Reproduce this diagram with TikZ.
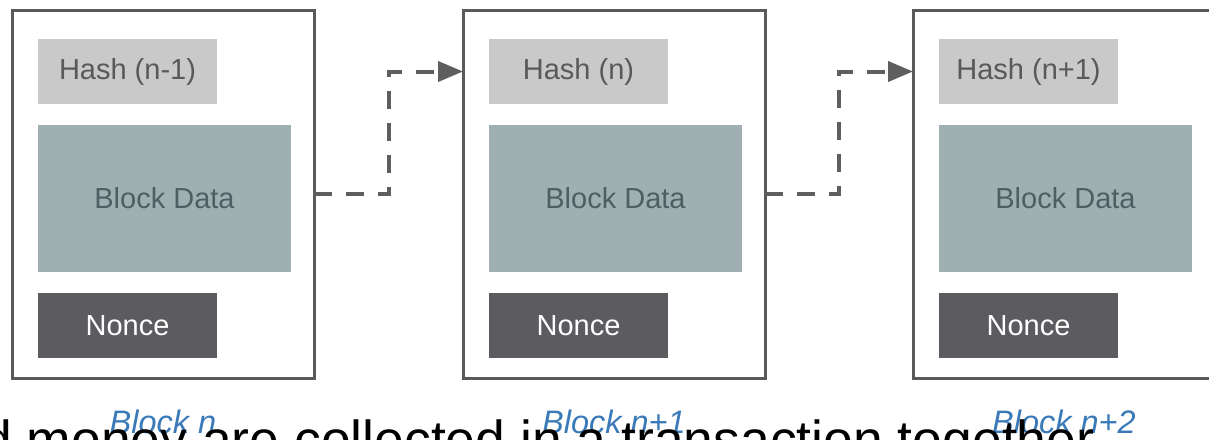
\documentclass[tikz,border=0pt]{standalone}
\usepackage{fontspec}
\setmainfont{Liberation Sans}
\usetikzlibrary{arrows.meta,calc}

\definecolor{frame}{HTML}{5A5A5A}
\definecolor{hashfill}{HTML}{C9C9C9}
\definecolor{hashtext}{HTML}{595959}
\definecolor{datafill}{HTML}{A0AFB1}
\definecolor{datatext}{HTML}{4F5E62}
\definecolor{noncefill}{HTML}{5C5B5F}
\definecolor{labelblue}{HTML}{3B7AB8}
\definecolor{connector}{HTML}{5E5E5E}

\begin{document}
\begin{tikzpicture}[x=1pt,y=-1pt,
  blockbox/.style={draw=frame, line width=3pt, fill=white, minimum width=302pt,
    minimum height=368pt, inner sep=0pt, outer sep=0pt, anchor=north west},
  part/.style={inner sep=0pt, outer sep=0pt, anchor=north west,
    font=\fontsize{29}{34}\selectfont},
  hashbox/.style={part, fill=hashfill, text=hashtext, minimum width=179pt, minimum height=65pt},
  databox/.style={part, fill=datafill, text=datatext, minimum width=253pt, minimum height=147pt},
  noncebox/.style={part, fill=noncefill, text=white, minimum width=179pt, minimum height=65pt},
  blocklabel/.style={anchor=base, inner sep=0pt, text=labelblue,
    font=\fontsize{32.5}{38}\selectfont\itshape},
  link/.style={draw=connector, line width=4pt, dash pattern=on 18pt off 14pt,
    -{Triangle[length=25pt,width=20pt]}},
]
\useasboundingbox (0,0) rectangle (1209,439);
\fill[white] (0,0) rectangle (1209,439);
\clip (0,0) rectangle (1209,439);

% three chained blocks
\foreach \i/\x/\prev/\this in {1/12/n-1/n, 2/463/n/n+1, 3/913/n+1/n+2} {
  \node[blockbox] (b\i) at (\x,10) {};
  \node[hashbox]  (h\i) at ([shift={(26,29)}]b\i.north west) {Hash (\prev)};
  \node[databox]  (d\i) at ([shift={(26,115)}]b\i.north west) {Block Data};
  \node[noncebox] (n\i) at ([shift={(26,283)}]b\i.north west) {Nonce};
  \node[blocklabel] (l\i) at ([yshift=-55pt]b\i.south) {Block \this};
}

% dashed links from each block to the hash field of the next
\coordinate (m1) at ($(b1.east)!0.5!(b2.west)$);
\coordinate (m2) at ($(b2.east)!0.5!(b3.west)$);
\draw[link] (b1.east) -| (m1 |- h2.west) -- (b2.west |- h2.west);
\draw[link] (b2.east) -| (m2 |- h3.west) -- (b3.west |- h3.west);

% running caption line
\node[anchor=base west, inner sep=0pt, font=\fontsize{53.5}{60}\selectfont] (caption)
  at (-18,458) {d money are collected in a transaction together};
\end{tikzpicture}
\end{document}
